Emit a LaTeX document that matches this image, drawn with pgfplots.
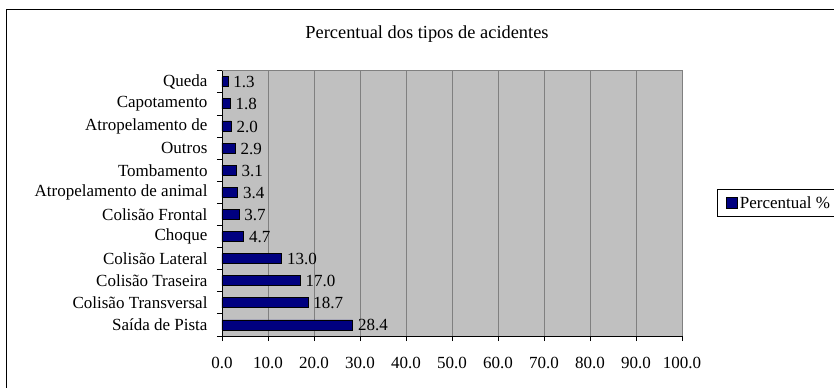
\documentclass[border=0pt]{standalone}
\usepackage{fontspec}
\setmainfont{Liberation Serif}
\usepackage{pgfplots}
\pgfplotsset{compat=1.18}
\definecolor{plotbg}{HTML}{C0C0C0}
\definecolor{gridgray}{HTML}{808080}
\definecolor{barnavy}{HTML}{000080}
\newcommand\lab{\fontsize{17bp}{19bp}\selectfont}
\begin{document}
\begin{tikzpicture}
\clip (-222bp,-52bp) rectangle (612bp,336bp);
\fill[white] (-222bp,-52bp) rectangle (612bp,336bp);
% chart frame
\draw[black, line width=1bp] (-215bp,-90bp) rectangle (680bp,326bp);
\begin{axis}[
  at={(0,0)}, anchor=south west,
  scale only axis, width=460bp, height=265.3bp,
  xbar, bar width=10bp,
  xmin=0, xmax=100, ymin=-0.5, ymax=11.5,
  axis lines*=left,
  axis line style={black, line width=0.8bp},
  axis background/.style={fill=plotbg, draw=gridgray, line width=0.8bp},
  xmajorgrids, major grid style={gridgray, line width=0.8bp},
  tick align=outside, major tick length=5bp, minor tick length=5bp,
  tick style={black, line width=0.8bp},
  xtick={0,10,...,100},
  xticklabel={\pgfmathprintnumber[fixed zerofill,precision=1,assume math mode=true]{\tick}},
  xticklabel style={font=\lab, yshift=-13bp},
  ytick={0,...,11},
  major y tick style={draw=none},
  minor ytick={-0.5,0.5,...,11.5},
  yticklabels={Saída de Pista, Colisão Transversal, Colisão Traseira, Colisão Lateral, Choque, Colisão Frontal, Atropelamento de animal, Tombamento, Outros, Atropelamento de, Capotamento, Queda},
  yticklabel style={font=\lab, xshift=-6bp},
  title={Percentual dos tipos de acidentes},
  title style={font=\fontsize{18.4bp}{21bp}\selectfont, at={(0.4457,1.1)}, anchor=base},
  point meta=x,
  nodes near coords={\pgfmathprintnumber[fixed zerofill,precision=1,assume math mode=true]{\pgfplotspointmeta}},
  every node near coord/.append style={font=\lab, anchor=west, inner sep=2bp, xshift=3bp, yshift=-0.5bp},
  legend style={at={(1.076,0.501)}, anchor=west, draw=black, line width=0.6bp, fill=white,
    font=\lab, inner xsep=9bp, inner ysep=5bp},
  legend image code/.code={\draw[#1, draw=black, line width=0.6bp] (0bp,-5.5bp) rectangle (11bp,5.5bp);},
]
\addplot[fill=barnavy, draw=black, line width=0.8bp] coordinates {
  (28.4,0) (18.7,1) (17.0,2) (13.0,3) (4.7,4) (3.7,5)
  (3.4,6) (3.1,7) (2.9,8) (2.0,9) (1.8,10) (1.3,11)
};
\addlegendentry{Percentual \%}
\end{axis}
\end{tikzpicture}
\end{document}
